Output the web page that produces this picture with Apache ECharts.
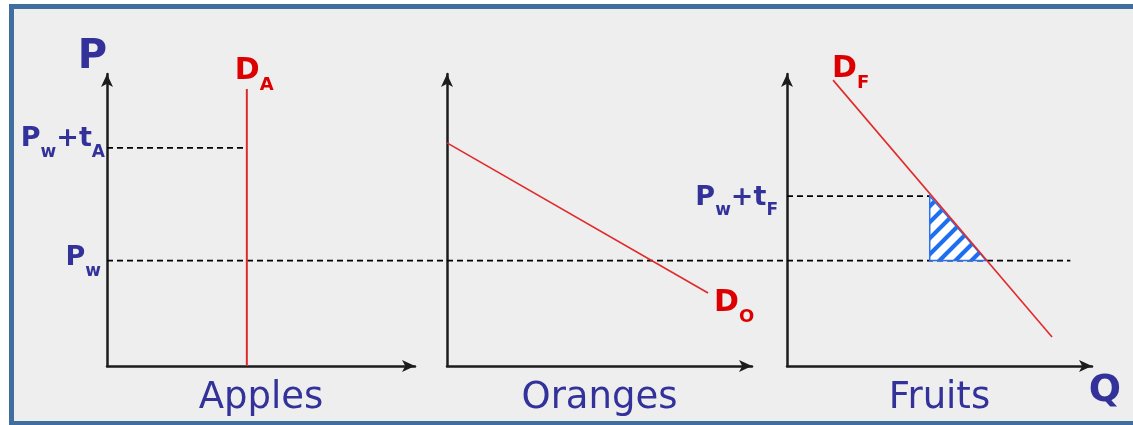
<!DOCTYPE html>
<html>
<head>
<meta charset="utf-8">
<script src="https://cdn.jsdelivr.net/npm/echarts@6/dist/echarts.min.js"></script>
<style>
  html, body { margin: 0; padding: 0; background: #fff; overflow: hidden; }
  #frame { position: absolute; left: 9px; top: 4px; width: 1200px; height: 412px;
           border: 5px solid #3f6e9f; background: #eeeeee; }
  #chart { position: absolute; left: 0; top: 0; width: 1133px; height: 425px; }
</style>
</head>
<body>
<div id="frame"></div>
<div id="chart"></div>
<script>
// names
const panelNames = ['Apples', 'Oranges', 'Fruits'];
const axisNames = ['P', 'Q'];

// every panel runs 0..100 on both axes (P up, Q right)
const demandA = [[45.4, 0], [45.4, 94.9]];
const demandO = [[0, 76.4], [85.6, 25.0]];
const demandF = [[15.1, 97.9], [86.9, 9.9]];
const tariffA = [[0, 74.7], [45.4, 74.7]];
const tariffF = [[0, 58.2], [46.8, 58.2]];
// world price runs across all three panels (overlay grid)
const worldPrice = [[0, 36.1], [97.8, 36.1]];
// deadweight loss in fruits
const lossTriangle = [[46.8, 58.2], [46.8, 36.1], [65.3, 36.1]];

// label texts (rich markup, subscripts)
const priceTexts = ['{m|P}{s|w}{m|+t}{s|A}', '{m|P}{s|w}', '{m|P}{s|w}{m|+t}{s|F}'];
const demandTexts = ['{dm|D}{ds|A}', '{dm|D}{ds|O}', '{dm|D}{ds|F}'];

const BLUE = '#32329a';
const RED = '#dd0000';
const FONT = 'DejaVu Sans';

const rich = {
  m: { fontFamily: FONT, fontSize: 27, lineHeight: 27, fontWeight: 'bold', color: BLUE, verticalAlign: 'top' },
  s: { fontFamily: FONT, fontSize: 17, lineHeight: 17, fontWeight: 'bold', color: BLUE, verticalAlign: 'top', padding: [18, 0, 0, 0] },
  dm: { fontFamily: FONT, fontSize: 30, lineHeight: 30, fontWeight: 'bold', color: RED, verticalAlign: 'top' },
  ds: { fontFamily: FONT, fontSize: 18, lineHeight: 18, fontWeight: 'bold', color: RED, verticalAlign: 'top', padding: [20, 0, 0, 0] }
};

function hatchCanvas() {
  const n = 16;
  const c = document.createElement('canvas');
  c.width = c.height = n;
  const g = c.getContext('2d');
  g.fillStyle = '#ffffff';
  g.fillRect(0, 0, n, n);
  g.strokeStyle = '#1e6ef0';
  g.lineWidth = 4.2;
  g.beginPath();
  g.moveTo(-4, n + 4); g.lineTo(n + 4, -4);
  g.moveTo(-5, 5); g.lineTo(5, -5);
  g.moveTo(n - 5, n + 5); g.lineTo(n + 5, n - 5);
  g.stroke();
  return c;
}
const hatch = hatchCanvas();

const arrowLine = {
  show: true,
  symbol: ['none', 'arrow'],
  symbolSize: [9, 13],
  lineStyle: { color: '#1c1c1c', width: 2.5 }
};
const hidden = { axisTick: { show: false }, axisLabel: { show: false }, splitLine: { show: false } };

function panelX(i) {
  return Object.assign({
    gridIndex: i, type: 'value', min: 0, max: 100,
    name: panelNames[i], nameLocation: 'middle', nameGap: 14,
    nameTextStyle: { fontFamily: FONT, fontSize: 37, color: BLUE },
    axisLine: arrowLine
  }, hidden);
}
function panelY(i) {
  return Object.assign({ gridIndex: i, type: 'value', min: 0, max: 100, axisLine: arrowLine }, hidden);
}

function textMark(point, text, dx, dy, align) {
  return {
    value: point, name: text,
    label: { show: true, position: [dx, dy], align: align, verticalAlign: 'middle' }
  };
}
function textSeries(i, data) {
  return {
    type: 'scatter', xAxisIndex: i, yAxisIndex: i, symbolSize: 0, clip: false, silent: true, z: 5,
    itemStyle: { opacity: 1 },
    label: { show: true, formatter: p => p.name, rich: rich, textBorderWidth: 0 },
    data: data
  };
}
function dashed(i, data) {
  return {
    type: 'line', xAxisIndex: i, yAxisIndex: i, data: data, symbol: 'none', silent: true, z: 2,
    lineStyle: { color: '#000', width: 1.8, type: [6, 4] }
  };
}
function demand(i, data, w) {
  return {
    type: 'line', xAxisIndex: i, yAxisIndex: i, data: data, symbol: 'none', silent: true, z: 4,
    lineStyle: { color: '#e02a2a', width: w }
  };
}

const chart = echarts.init(document.getElementById('chart'), null, { renderer: 'canvas' });
chart.setOption({
  animation: false,
  grid: [
    { left: 107, top: 74, width: 308, bottom: 59, outerBoundsMode: 'none' },
    { left: 447, top: 74, width: 305, bottom: 59, outerBoundsMode: 'none' },
    { left: 787, top: 74, width: 305, bottom: 59, outerBoundsMode: 'none' },
    { left: 107, top: 74, width: 985, bottom: 59, outerBoundsMode: 'none' }
  ],
  xAxis: [
    panelX(0), panelX(1), panelX(2),
    Object.assign({
      gridIndex: 3, type: 'value', min: 0, max: 100,
      name: axisNames[1], nameLocation: 'end', nameGap: 13,
      nameTextStyle: { fontFamily: FONT, fontSize: 38, fontWeight: 'bold', color: BLUE,
                       align: 'center', verticalAlign: 'top', padding: [6, 0, 0, 0] },
      axisLine: { show: false }
    }, hidden)
  ],
  yAxis: [
    Object.assign(panelY(0), {
      name: axisNames[0], nameLocation: 'end', nameGap: 16,
      nameTextStyle: { fontFamily: FONT, fontSize: 40, fontWeight: 'bold', color: BLUE,
                       align: 'right', verticalAlign: 'middle' }
    }),
    panelY(1), panelY(2),
    Object.assign({ gridIndex: 3, type: 'value', min: 0, max: 100, axisLine: { show: false } }, hidden)
  ],
  series: [
    dashed(3, worldPrice),
    dashed(0, tariffA),
    dashed(2, tariffF),
    {
      type: 'custom', xAxisIndex: 2, yAxisIndex: 2, silent: true, z: 3,
      data: [lossTriangle[0]],
      renderItem: function (params, api) {
        return {
          type: 'polygon',
          shape: { points: lossTriangle.map(p => api.coord(p)) },
          style: { fill: { image: hatch, repeat: 'repeat' }, stroke: '#2a70f0', lineWidth: 1.5 }
        };
      }
    },
    demand(0, demandA, 2),
    demand(1, demandO, 1.6),
    demand(2, demandF, 1.6),
    textSeries(0, [
      textMark(tariffA[0], priceTexts[0], -2, -8.5, 'right'),
      textMark(demandA[1], demandTexts[0], -12, -18, 'left')
    ]),
    textSeries(1, [
      textMark(demandO[1], demandTexts[1], 6, 10, 'left')
    ]),
    textSeries(2, [
      textMark(tariffF[0], priceTexts[2], -9, 2, 'right'),
      textMark(demandF[0], demandTexts[2], -1, -11, 'left')
    ]),
    textSeries(3, [
      textMark(worldPrice[0], priceTexts[1], -6, -2.5, 'right')
    ])
  ]
});
</script>
</body>
</html>
